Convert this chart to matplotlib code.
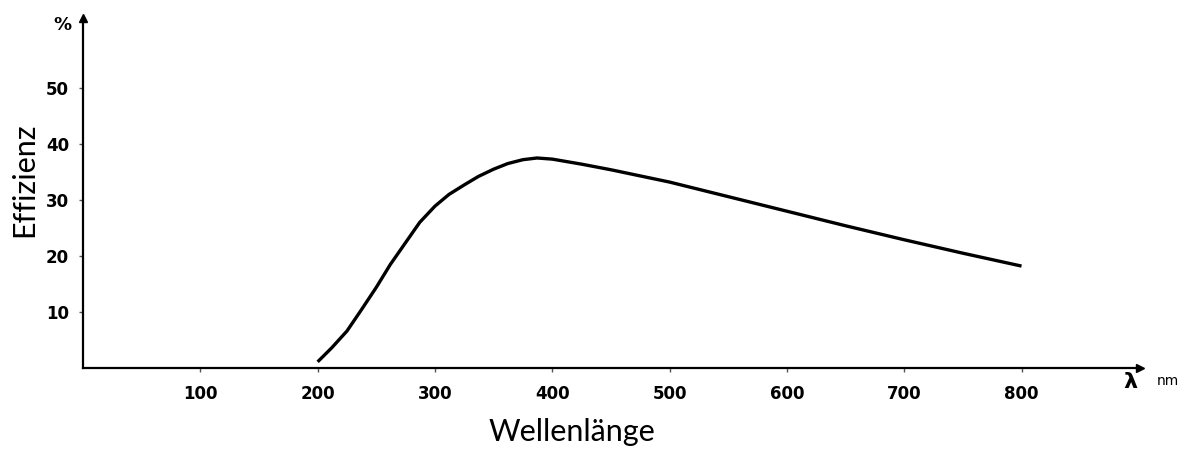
import matplotlib
matplotlib.use("Agg")
import matplotlib.pyplot as plt

# Wirkungsgrad über der Wellenlänge
wellenlaenge = [200, 212, 225, 237, 250, 262, 275, 287, 300, 312, 325, 337, 350,
                362, 375, 387, 400, 425, 450, 500, 550, 600, 650, 700, 750, 800]
effizienz = [1.1, 3.6, 6.6, 10.3, 14.4, 18.5, 22.4, 26.0, 28.9, 31.0, 32.7, 34.2,
             35.5, 36.5, 37.2, 37.5, 37.3, 36.4, 35.4, 33.2, 30.6, 28.0, 25.4,
             22.9, 20.5, 18.2]

x_ticks = [100, 200, 300, 400, 500, 600, 700, 800]
y_ticks = [10, 20, 30, 40, 50]

W, H = 1192, 449
fig = plt.figure(figsize=(W / 100, H / 100), dpi=100)
# Achsenursprung bei (83, 368) px, Pfeilspitzen bei x=1140 und y=18
ax = fig.add_axes([83 / W, (H - 368) / H, (1140 - 83) / W, (368 - 18) / H])
ax.set_xlim(0, 901)
ax.set_ylim(0, 62.5)

ax.plot(wellenlaenge, effizienz, color="black", lw=2.4,
        solid_joinstyle="round", solid_capstyle="butt")

for side in ("top", "right"):
    ax.spines[side].set_visible(False)
for side in ("left", "bottom"):
    ax.spines[side].set_linewidth(1.6)
    ax.spines[side].set_color("black")

# Pfeilspitzen an den Achsenenden
ax.plot(1, 0, marker=">", color="black", ms=6, transform=ax.transAxes, clip_on=False)
ax.plot(0, 1, marker="^", color="black", ms=6, transform=ax.transAxes, clip_on=False)

tick_font = dict(family="DejaVu Sans", weight="bold", size=12)
ax.set_xticks(x_ticks)
ax.set_xticklabels([str(v) for v in x_ticks], **tick_font)
ax.set_yticks(y_ticks)
ax.set_yticklabels([str(v) for v in y_ticks], **tick_font)
ax.tick_params(axis="both", length=3, width=1, color="#555555")
ax.tick_params(axis="x", pad=9)
ax.tick_params(axis="y", pad=7)

label_font = dict(family="Lato", weight="normal", size=22, color="black")
fig.text(572 / W, 1 - 432 / H, "Wellenlänge", ha="center", va="center", **label_font)
fig.text(24 / W, 1 - 180 / H, "Effizienz", ha="center", va="center",
         rotation=90, **label_font)

fig.text(62 / W, 1 - 25 / H, "%", ha="center", va="center",
         family="DejaVu Sans", weight="bold", size=13)
fig.text(1130 / W, 1 - 382 / H, "λ", ha="center", va="center",
         family="DejaVu Sans", weight="bold", size=16)
fig.text(1168 / W, 1 - 381 / H, "nm", ha="center", va="center",
         family="DejaVu Sans", size=10)

fig.savefig("out.png", dpi=100, facecolor="white")
